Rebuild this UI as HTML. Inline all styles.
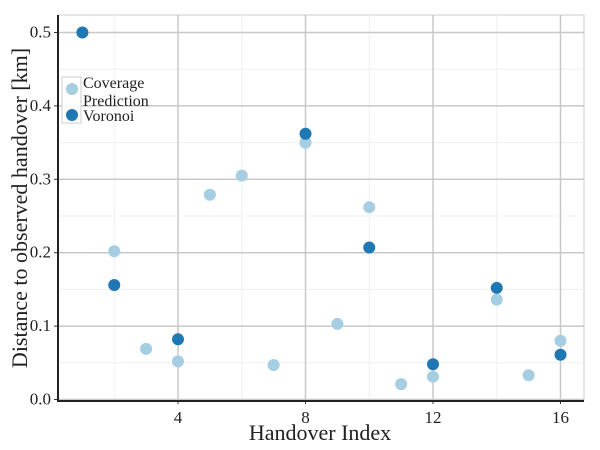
<!DOCTYPE html>
<html><head><meta charset="utf-8"><style>
html,body{margin:0;padding:0;background:#fff;}
svg{display:block;font-family:"Liberation Serif",serif;}
</style></head><body>
<svg id="chart" width="600" height="450">
<g id="grid"></g>
<g id="marks"></g>
<g id="axes"></g>
<text x="320" y="440" font-size="22" text-anchor="middle" fill="#222">Handover Index</text>
<text transform="translate(27,208) rotate(-90)" font-size="22" text-anchor="middle" fill="#222">Distance to observed handover [km]</text>
<g>
<rect x="62" y="77" width="19" height="46" fill="#fff" stroke="#ccc"/>
<circle cx="72" cy="89" r="6" fill="#a6cee3"/>
<circle cx="72" cy="115" r="6" fill="#1f78b4"/>
<text x="83" y="88" font-size="16" fill="#222">Coverage</text>
<text x="83" y="106" font-size="16" fill="#222">Prediction</text>
<text x="83" y="121" font-size="16" fill="#222">Voronoi</text>
</g>
</svg>
<script>
const coverageX=[2,3,4,5,6,7,8,9,10,11,12,14,15,16];
const coverageY=[0.202,0.069,0.052,0.279,0.305,0.047,0.350,0.103,0.262,0.021,0.031,0.136,0.033,0.080];
const voronoiX=[1,2,4,8,10,12,14,16];
const voronoiY=[0.500,0.156,0.082,0.362,0.207,0.048,0.152,0.061];
const xTicks=[4,8,12,16];
const yTicks=[0,0.1,0.2,0.3,0.4,0.5];
const yTickLabels=["0.0","0.1","0.2","0.3","0.4","0.5"];
const NS="http://www.w3.org/2000/svg";
const L=58,R=584,T=15,B=400;
function sx(v){return 178+(v-4)*(433-178)/8;}
function sy(v){return 399.5-v*734;}
function mk(p,tag,a){const e=document.createElementNS(NS,tag);for(const k in a)e.setAttribute(k,a[k]);p.appendChild(e);return e;}
const grid=document.getElementById('grid'),marks=document.getElementById('marks'),axes=document.getElementById('axes');
mk(grid,'rect',{x:L,y:T,width:R-L,height:B-T,fill:'#fff',stroke:'#ccc'});
for(let v=2;v<=16;v+=4){const l=mk(grid,'line',{x1:sx(v),x2:sx(v),y1:T,y2:B,stroke:'#f0f0f0'});

}
for(let v=0.05;v<0.55;v+=0.1){const l=mk(grid,'line',{x1:L,x2:R,y1:sy(v),y2:sy(v),stroke:'#f0f0f0'});

}
xTicks.forEach(v=>{const l=mk(grid,'line',{x1:sx(v),x2:sx(v),y1:T,y2:B,stroke:'#c8c8c8','stroke-width':1.5});


const t=mk(axes,'text',{x:sx(v),y:423,'font-size':17,'text-anchor':'middle',fill:'#222'});t.textContent=v;


mk(axes,'line',{x1:sx(v),x2:sx(v),y1:B,y2:B+4,stroke:'#333'});});
yTicks.forEach((v,i)=>{const l=mk(grid,'line',{x1:L,x2:R,y1:sy(v),y2:sy(v),stroke:'#c8c8c8','stroke-width':1.5});


const t=mk(axes,'text',{x:51,y:sy(v)+5,'font-size':17,'text-anchor':'end',fill:'#222'});t.textContent=yTickLabels[i];


mk(axes,'line',{x1:L-4,x2:L,y1:sy(v),y2:sy(v),stroke:'#333'});});
mk(axes,'line',{x1:L,x2:L,y1:T,y2:B+1,stroke:'#222','stroke-width':2});
mk(axes,'line',{x1:L-1,x2:R,y1:B+1,y2:B+1,stroke:'#222','stroke-width':2});
coverageX.forEach((x,i)=>{const c=mk(marks,'circle',{cx:sx(x),cy:sy(coverageY[i]),r:6,fill:'#a6cee3'});

});
voronoiX.forEach((x,i)=>{const c=mk(marks,'circle',{cx:sx(x),cy:sy(voronoiY[i]),r:6,fill:'#1f78b4'});

});
</script>
</body></html>
